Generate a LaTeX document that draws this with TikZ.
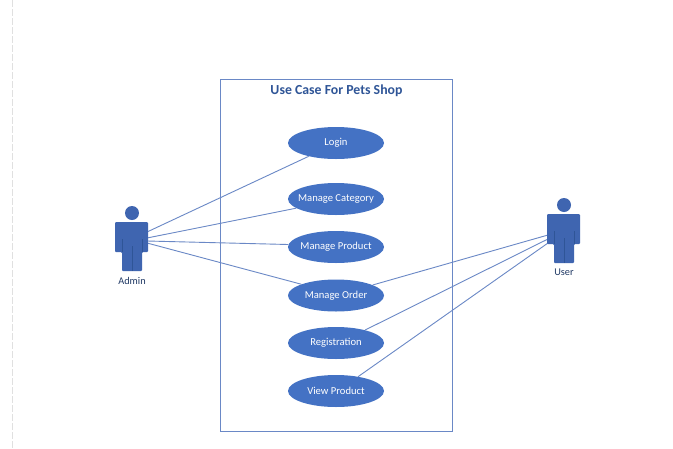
\documentclass[tikz,border=0pt]{standalone}
\usepackage{fontspec}
\setmainfont{Carlito}
\usetikzlibrary{shapes.geometric}
\definecolor{ucblue}{HTML}{4472C4}
\definecolor{ucline}{HTML}{6A88C6}
\definecolor{ucdark}{HTML}{2F5597}
\definecolor{uclabel}{HTML}{1F3864}
\definecolor{ucactor}{HTML}{3F65B0}
\definecolor{ucseam}{HTML}{2F5597}
\tikzset{
  usecase/.style={ellipse,fill=ucblue,text=white,inner sep=0pt,minimum width=96pt,minimum height=32pt,font=\fontsize{10.6}{12}\selectfont},
  assoc/.style={ucline,line width=0.9pt},
  actorfill/.style={fill=ucactor,draw=none},
  seam/.style={ucseam,line width=0.6pt},
  actorlabel/.style={text=uclabel,inner sep=0pt,font=\fontsize{10.3}{12}\selectfont},
}
\newcommand{\uctext}[1]{\makebox[0pt][c]{\raisebox{-1pt}{#1}}}
\newcommand{\actorshape}[2]{%
  \fill[actorfill] (#1+17,#2-9) circle[radius=7];
  \fill[actorfill,rounded corners=1pt] (#1,#2) -- (#1+33,#2) -- (#1+33,#2+30) -- (#1+27,#2+30) -- (#1+27,#2+49) -- (#1+7,#2+49) -- (#1+7,#2+30) -- (#1,#2+30) -- cycle;
  \draw[seam] (#1+7,#2+17) -- (#1+7,#2+30);
  \draw[seam] (#1+27,#2+17) -- (#1+27,#2+30);
  \draw[seam] (#1+17,#2+24) -- (#1+17,#2+49);
}
\begin{document}
\begin{tikzpicture}[x=1pt,y=-1pt]
\useasboundingbox (0,0) rectangle (673,448);
\fill[white] (0,0) rectangle (673,448);
\draw[black!12,line width=0.8pt,dash pattern=on 7pt off 2pt] (12.5,0) -- (12.5,448);
\node[draw=ucline,line width=0.9pt,minimum width=232pt,minimum height=352pt,inner sep=0pt] (system) at (336.5,255.5) {};
\node[text=ucdark,inner sep=0pt,font=\fontsize{13.8}{15}\selectfont\bfseries] (title) at (336.5,91) {Use Case For Pets Shop};
\node[usecase] (login) at (336,143) {\uctext{Login}};
\node[usecase] (category) at (336,199) {\uctext{Manage Category}};
\node[usecase] (product) at (336,247) {\uctext{Manage Product}};
\node[usecase] (order) at (336,295.5) {\uctext{Manage Order}};
\node[usecase] (registration) at (336,343) {\uctext{Registration}};
\node[usecase] (view) at (336,391) {\uctext{View Product}};
\coordinate (adminA) at (147,232);
\coordinate (adminB) at (147,238);
\coordinate (adminC) at (147,241);
\coordinate (adminD) at (147,243);
\coordinate (userA) at (548,235);
\coordinate (userB) at (548,239);
\coordinate (userC) at (548,243);
\draw[assoc] (adminA) -- (login.{atan2(-13,-27)});
\draw[assoc] (adminB) -- (category.{atan2(-9,-41)});
\draw[assoc] (adminC) -- (product.{atan2(2,-48)});
\draw[assoc] (adminD) -- (order.{atan2(11.5,-37)});
\draw[assoc] (userA) -- (order.{atan2(11.5,38)});
\draw[assoc] (userB) -- (registration.{atan2(13,28)});
\draw[assoc] (userC) -- (view.{atan2(15,23)});
\actorshape{115}{222}
\actorshape{547}{214}
\node[actorlabel] (adminlabel) at (132,281) {Admin};
\node[actorlabel] (userlabel) at (564,272) {User};
\end{tikzpicture}
\end{document}
